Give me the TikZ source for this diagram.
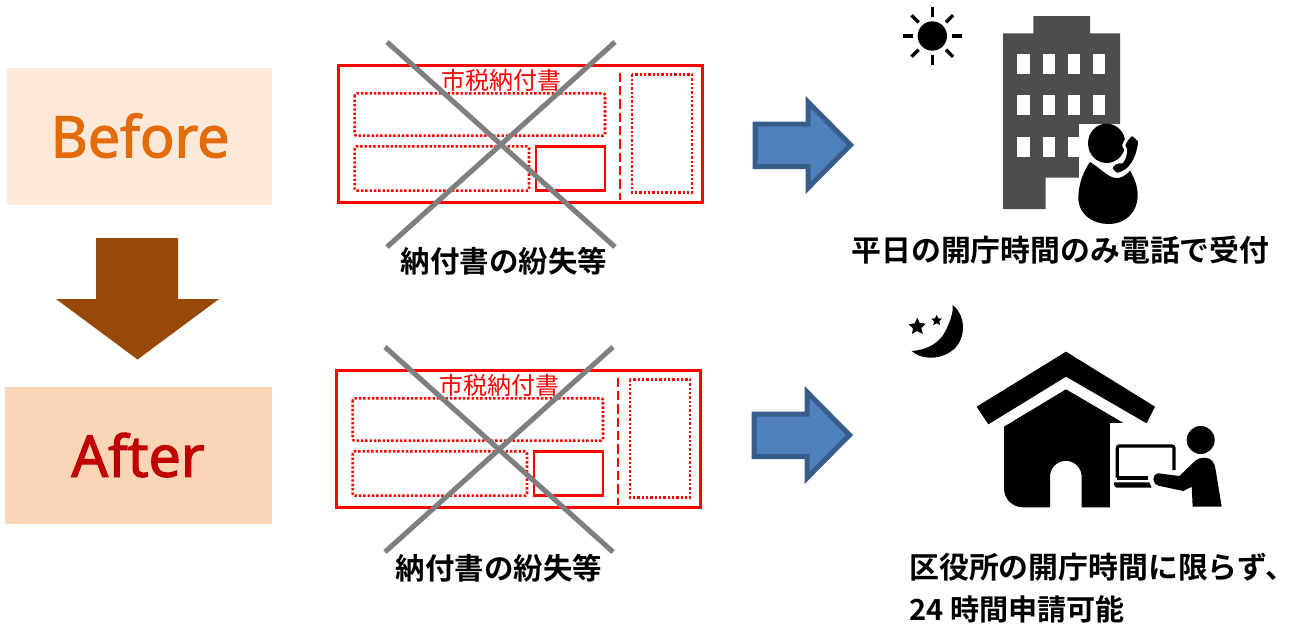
\documentclass[tikz,border=0pt]{standalone}
\usepackage{fontspec}
\setmainfont{Noto Sans}
\newfontfamily\wordfont[FakeBold=2]{Noto Sans}
\newfontfamily\jp{Noto Sans CJK JP}
\newfontfamily\jpb{Noto Sans CJK JP Bold}
\definecolor{slipred}{HTML}{FF0000}
\definecolor{crossgray}{HTML}{7F7F7F}
\definecolor{bluefill}{HTML}{4F81BD}
\definecolor{blueline}{HTML}{385D8A}
\definecolor{brownarrow}{HTML}{984807}
\definecolor{beforebg}{HTML}{FDE9D9}
\definecolor{afterbg}{HTML}{FBD5B5}
\definecolor{beforetx}{HTML}{E36C09}
\definecolor{aftertx}{HTML}{C00000}
\definecolor{bldg}{HTML}{4D4D4D}
\tikzset{
  solidred/.style={draw=slipred,line width=2pt},
  dotred/.style={draw=slipred,line width=1.9pt,dash pattern=on 1.8pt off 1.45pt},
  dashred/.style={draw=slipred,line width=1.4pt,dash pattern=on 7pt off 3pt},
  crossline/.style={draw=crossgray,line width=3.8pt},
  bigword/.style={font=\fontsize{43}{43}\wordfont,inner sep=0pt,anchor=base},
  jplabel/.style={font=\fontsize{22.1}{26}\jpb,inner sep=0pt,text=black},
  jpright/.style={font=\fontsize{22.4}{26}\jpb,inner sep=0pt,text=black},
  jpsmall/.style={font=\fontsize{21.8}{26}\jpb,inner sep=0pt,text=black},
  bluearrow/.style={fill=bluefill,draw=blueline,line width=3.75pt,miter limit=10},
  win/.style={fill=white,draw=none},
  ink/.style={fill=black,draw=none}
}
\newcommand{\slipform}[2]{%
\begin{scope}[shift={(#1,#2)}]
  \draw[solidred] (338.7,65.7) rectangle (702.3,202.3);
  \draw[dotred,rounded corners=1.5pt] (354.7,93.3) rectangle (605,135.7);
  \draw[dotred,rounded corners=1.5pt] (354.7,146.3) rectangle (529,190.7);
  \draw[solidred] (536,146.3) rectangle (605,190.7);
  \draw[dotred] (632,74.3) rectangle (692,192.7);
  \draw[dashred] (619.7,72.7) -- (619.7,200);
  \node[text=slipred,inner sep=0pt,font=\fontsize{18}{20}\jp] at (501,80.5) {市税納付書};
  \draw[crossline] (387,42) -- (615,247);
  \draw[crossline] (615,42) -- (387,247);
\end{scope}}
\newcommand{\bluearrowshape}[2]{%
\begin{scope}[shift={(#1,#2)}]
  \draw[bluearrow] (755,124) -- (808,124) -- (808,102) -- (850.5,145) -- (808,188) -- (808,166.5) -- (755,166.5) -- cycle;
\end{scope}}
\begin{document}
\begin{tikzpicture}[x=0.75pt,y=-0.75pt]
\useasboundingbox (0,0) rectangle (1293,625);
\fill[white] (0,0) rectangle (1293,625);

% left column
\fill[beforebg] (7,68) rectangle (272,205);
\fill[afterbg] (5,387) rectangle (272,524);
\node[bigword,text=beforetx] (before) at (140,157.3) {Before};
\node[bigword,text=aftertx] (after) at (138,476.7) {After};
\fill[brownarrow] (96,238) -- (178,238) -- (178,299) -- (219,299) -- (137.5,359.5) -- (56,299) -- (96,299) -- cycle;

% slips
\slipform{0}{0}
\slipform{-2}{305}
\node[jplabel] (lost1) at (504,261) {納付書の紛失等};
\node[jplabel] (lost2) at (499,568) {納付書の紛失等};

% blue arrows
\bluearrowshape{0}{0}
\bluearrowshape{-1}{290}

% right labels
\node[jpright] (l1) at (1060.5,250) {平日の開庁時間のみ電話で受付};
\node[jpright,anchor=west] (l2) at (909,567) {区役所の開庁時間に限らず、};
\node[jpsmall,anchor=west] (l3) at (909,609) {24 時間申請可能};

% sun + building (coordinates in 3x zoom units)
\begin{scope}[x=0.25pt,y=-0.25pt,shift={(2640,0)}]
  \fill[black] (157,108) circle (44);
  \foreach \a in {0,45,...,315}
    \draw[black,line width=2.5pt] (157,108) ++(\a:58) -- ++(\a:30);
  \fill[bldg] (369,100) -- (460,100) -- (460,48) -- (630,48) -- (630,100) -- (720,100) -- (720,627) -- (597,627) -- (597,533) -- (497,533) -- (497,627) -- (369,627) -- cycle;
  \foreach \x in {412,488,563,638}
    \foreach \y in {162,286,410}
      \fill[win] (\x,\y) rectangle (\x+38,\y+60);
  \fill[white] (597,372) rectangle (730,640);
\end{scope}
% person on the telephone
\begin{scope}[x=0.25pt,y=-0.25pt,shift={(3225,354)}]
  \fill[ink] (45,132) .. controls (25,160) and (10,200) .. (10,240)
     .. controls (10,290) and (55,318) .. (100,318)
     .. controls (150,318) and (188,285) .. (188,230)
     .. controls (188,205) and (178,180) .. (165,158)
     .. controls (150,175) and (135,182) .. (120,180)
     .. controls (95,175) and (75,150) .. (45,132) -- cycle;
  \fill[ink] (95,76) ellipse (56 and 59);
  \filldraw[fill=black,draw=white,line width=2.2pt,line join=round]
     (172,48) -- (194,68) .. controls (193,90) and (185,125) .. (165,147)
     .. controls (150,165) and (130,170) .. (122,168) -- (107,152)
     .. controls (112,135) and (128,130) .. (140,132)
     .. controls (148,122) and (152,110) .. (152,95)
     -- (146,82) .. controls (150,70) and (160,55) .. (172,48) -- cycle;
\end{scope}

% moon + house
\begin{scope}[x=0.25pt,y=-0.25pt,shift={(2670,885)}]
  \fill[ink] (188,30) .. controls (232,65) and (228,140) .. (182,170)
    .. controls (142,197) and (90,192) .. (65,168)
    .. controls (110,165) and (150,145) .. (168,105)
    .. controls (180,80) and (190,55) .. (188,30) -- cycle;
  \fill[ink] (82,68) -- (89,84) -- (107,86) -- (94,99) -- (98,117) -- (81,108) -- (66,117) -- (69,100) -- (56,88) -- (74,85) -- cycle;
  \fill[ink] (140,60) -- (145,70) -- (156,71) -- (148,79) -- (150,90) -- (140,85) -- (130,90) -- (132,79) -- (124,71) -- (135,70) -- cycle;
  % roof
  \fill[ink] (528,170) -- (795,335) -- (770,385) -- (528,245) -- (295,388) -- (260,335) -- cycle;
  % body
  \fill[ink] (528,283) -- (745,410) -- (745,637) -- (575,637) -- (575,545)
     arc[start angle=0,end angle=-180,radius=47.5]
     -- (480,637) -- (400,637) .. controls (365,637) and (342,610) .. (342,580) -- (342,395) -- cycle;
  \fill[white] (660,383) rectangle (800,660);
  % laptop
  \draw[black,line width=2.4pt,rounded corners=1.5pt] (682,548) -- (682,453) -- (852,453) -- (852,525);
  \draw[black,line width=2.4pt] (682,549) -- (775,549);
  \fill[ink] (672,562) -- (778,562) -- (785,578) -- (680,578) .. controls (675,578) and (672,572) .. (672,562) -- cycle;
  % person
  \fill[ink] (932,435) circle (42);
  \fill[ink] (945,488) .. controls (965,488) and (975,505) .. (977,525)
     -- (995,635) -- (908,635) -- (905,575) -- (880,588) -- (805,572)
     .. controls (785,565) and (785,538) .. (805,535)
     -- (868,543) -- (915,498) .. controls (925,490) and (935,488) .. (945,488) -- cycle;
\end{scope}
\end{tikzpicture}
\end{document}
